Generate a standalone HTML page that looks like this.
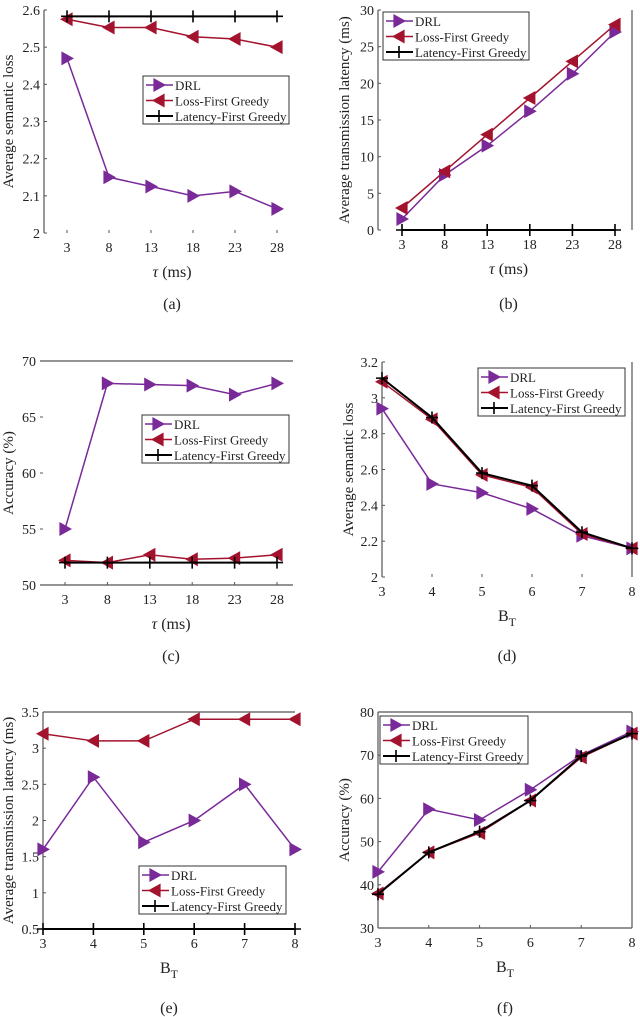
<!DOCTYPE html>
<html><head><meta charset="utf-8"><style>
body{margin:0;background:#fff;}
svg{display:block;font-family:"Liberation Serif",serif;}
</style></head><body>
<svg id="fig" width="640" height="1017" viewBox="0 0 640 1017" xmlns="http://www.w3.org/2000/svg"></svg>
<script>
const tauCats=[3,8,13,18,23,28];
const bCats=[3,4,5,6,7,8];
const aDRL=[2.47,2.15,2.125,2.10,2.112,2.065];
const aLFG=[2.575,2.553,2.553,2.528,2.522,2.50];
const aLAT=[2.583,2.583,2.583,2.583,2.583,2.583];
const bDRL=[1.5,7.5,11.5,16.2,21.3,27];
const bLFG=[3,8,13,18,23,28];
const bLAT=[0,0,0,0,0,0];
const cDRL=[55,68,67.9,67.8,67,68];
const cLFG=[52.2,52,52.7,52.3,52.4,52.7];
const cLAT=[52,52,52,52,52,52];
const dDRL=[2.94,2.52,2.47,2.38,2.23,2.16];
const dLFG=[3.09,2.88,2.57,2.50,2.24,2.16];
const dLAT=[3.11,2.89,2.58,2.51,2.25,2.16];
const eDRL=[1.6,2.6,1.7,2.0,2.5,1.6];
const eLFG=[3.2,3.1,3.1,3.4,3.4,3.4];
const eLAT=[0.5,0.5,0.5,0.5,0.5,0.5];
const fDRL=[43,57.5,55,62,70,75.5];
const fLFG=[38,47.5,52,59.5,69.5,75];
const fLAT=[37.8,47.5,52.3,59.5,69.8,75];
const aTicks=[2,2.1,2.2,2.3,2.4,2.5,2.6];
const bTicks=[0,5,10,15,20,25,30];
const cTicks=[50,55,60,65,70];
const dTicks=[2,2.2,2.4,2.6,2.8,3,3.2];
const eTicks=[0.5,1,1.5,2,2.5,3,3.5];
const fTicks=[30,40,50,60,70,80];
const seriesNames=["DRL","Loss-First Greedy","Latency-First Greedy"];

const NS="http://www.w3.org/2000/svg";
const svg=document.getElementById('fig');
const PURPLE="#7a2a98",RED="#a3132e";
function mk(tag,attrs,parent){const e=document.createElementNS(NS,tag);for(const k in attrs)e.setAttribute(k,attrs[k]);(parent||svg).appendChild(e);return e;}
function txt(s,x,y,size,anchor,parent,extra){const t=mk('text',Object.assign({x:x,y:y,'font-size':size,'text-anchor':anchor||'middle',fill:'#222'},extra||{}),parent);t.textContent=s;return t;}
function marker(type,x,y,color,g){
  const s=7;
  if(type==='r'){const p=mk('polygon',{points:`${x-s*0.8},${y-s} ${x+s},${y} ${x-s*0.8},${y+s}`,fill:color},g);}
  else if(type==='l'){const p=mk('polygon',{points:`${x+s*0.8},${y-s} ${x-s},${y} ${x+s*0.8},${y+s}`,fill:color},g);}
  else{const p=mk('path',{d:`M${x-6},${y}H${x+6}M${x},${y-6}V${y+6}`,stroke:color,'stroke-width':1.6},g);}
}
function panel(o){
  const g=mk('g',{});
  
  
  const X=v=>o.l+(v-o.cats[0])/(o.cats[o.cats.length-1]-o.cats[0])*(o.xr-o.l);
  const Y=v=>o.b-(v-o.ymin)/(o.ymax-o.ymin)*(o.b-o.t);
  const L=o.frameL!==undefined?o.frameL:o.l, R=o.frameR!==undefined?o.frameR:o.xr;
  if(o.frame.includes('L')){const e=mk('line',{x1:L,y1:o.t,x2:L,y2:o.b,stroke:'#555','stroke-width':1.2},g);}
  if(o.frame.includes('R')){const e=mk('line',{x1:R,y1:o.t,x2:R,y2:o.b,stroke:'#555','stroke-width':1.2},g);}
  if(o.frame.includes('T')){const e=mk('line',{x1:L,y1:o.t,x2:R,y2:o.t,stroke:'#555','stroke-width':1.2},g);}
  if(o.frame.includes('B')){const e=mk('line',{x1:L,y1:o.b,x2:R,y2:o.b,stroke:'#555','stroke-width':1.2},g);}
  o.yticks.forEach(v=>{const t=txt(String(v),L-4,Y(v)+5,14,'end',g);
    mk('line',{x1:L,y1:Y(v),x2:L+3,y2:Y(v),stroke:'#555'},g);});
  o.cats.forEach(c=>{const t=txt(String(c),X(c),o.b+19,14,'middle',g);
    mk('line',{x1:X(c),y1:o.b,x2:X(c),y2:o.b-3,stroke:'#555'},g);});
  const yt=txt(o.ylabel,0,0,15,'middle',g,{transform:`translate(${o.ylx},${(o.t+o.b)/2}) rotate(-90)`});
  
  let xt;
  if(o.xlabel==='tau'){xt=mk('text',{x:(o.l+o.xr)/2,y:o.b+44,'font-size':16,'text-anchor':'middle',fill:'#222'},g);
    const a=mk('tspan',{'font-style':'italic'},xt);a.textContent='τ';const b=mk('tspan',{},xt);b.textContent=' (ms)';}
  else{xt=mk('text',{x:(o.l+o.xr)/2,y:o.b+44,'font-size':16,'text-anchor':'middle',fill:'#222'},g);
    const a=mk('tspan',{},xt);a.textContent='B';const b=mk('tspan',{dy:5,'font-size':12},xt);b.textContent='T';}
  
  const cap=txt('('+o.id+')',(o.l+o.xr)/2,o.capY,16,'middle',g);
  
  const ser=[[o.drl,PURPLE,'r','drl'],[o.lfg,RED,'l','loss-first-greedy'],[o.lat,'#000','p','latency-first-greedy']];
  ser.forEach(([data,col,m,nm])=>{
    const pl=mk('polyline',{points:data.map((v,i)=>X(o.cats[i])+','+Y(v)).join(' '),fill:'none',stroke:col,'stroke-width':m==='p'?2:1.5},g);
    
    data.forEach((v,i)=>marker(m,X(o.cats[i]),Y(v),col,g));
  });
  const lg=mk('g',{},g);
  
  
  mk('rect',{x:o.lx,y:o.ly,width:o.lw,height:48,fill:'#fff',stroke:'#333','stroke-width':1},lg);
  ser.forEach(([d,col,m,nm],i)=>{
    const yy=o.ly+9+i*15.5;
    mk('line',{x1:o.lx+3,y1:yy,x2:o.lx+30,y2:yy,stroke:col,'stroke-width':m==='p'?2:1.5},lg);
    marker(m,o.lx+16,yy,col,lg);
    const t=txt(seriesNames[i],o.lx+32,yy+5,13,'start',lg);
    
  });
}
panel({id:'a',cats:tauCats,l:67,xr:277,frameL:44,frameR:289,t:10,b:233,ymin:2,ymax:2.6,yticks:aTicks,frame:'L',drl:aDRL,lfg:aLFG,lat:aLAT,ylabel:'Average semantic loss',ylx:13,xlabel:'tau',capY:309,lx:143,ly:76,lw:146});
panel({id:'b',cats:tauCats,l:402,xr:615,frameL:378,frameR:632,t:10,b:230,ymin:0,ymax:30,yticks:bTicks,frame:'LR',drl:bDRL,lfg:bLFG,lat:bLAT,ylabel:'Average transmission latency (ms)',ylx:349,xlabel:'tau',capY:309,lx:383,ly:12,lw:146});
panel({id:'c',cats:tauCats,l:65,xr:277,frameL:40,frameR:293,t:361,b:585,ymin:50,ymax:70,yticks:cTicks,frame:'TB',drl:cDRL,lfg:cLFG,lat:cLAT,ylabel:'Accuracy (%)',ylx:13,xlabel:'tau',capY:661,lx:142,ly:415,lw:147});
panel({id:'d',cats:bCats,l:382,xr:632,t:362,b:577,ymin:2,ymax:3.2,yticks:dTicks,frame:'LR',drl:dDRL,lfg:dLFG,lat:dLAT,ylabel:'Average semantic loss',ylx:353,xlabel:'B',capY:661,lx:478,ly:368,lw:147});
panel({id:'e',cats:bCats,l:43,xr:295,t:712,b:929,ymin:0.5,ymax:3.5,yticks:eTicks,frame:'LT',drl:eDRL,lfg:eLFG,lat:eLAT,ylabel:'Average transmission latency (ms)',ylx:13,xlabel:'B',capY:1013,lx:139,ly:866,lw:147});
panel({id:'f',cats:bCats,l:378,xr:632,t:712,b:928,ymin:30,ymax:80,yticks:fTicks,frame:'LRTB',drl:fDRL,lfg:fLFG,lat:fLAT,ylabel:'Accuracy (%)',ylx:349,xlabel:'B',capY:1013,lx:380,ly:716,lw:148});
</script>
</body></html>
